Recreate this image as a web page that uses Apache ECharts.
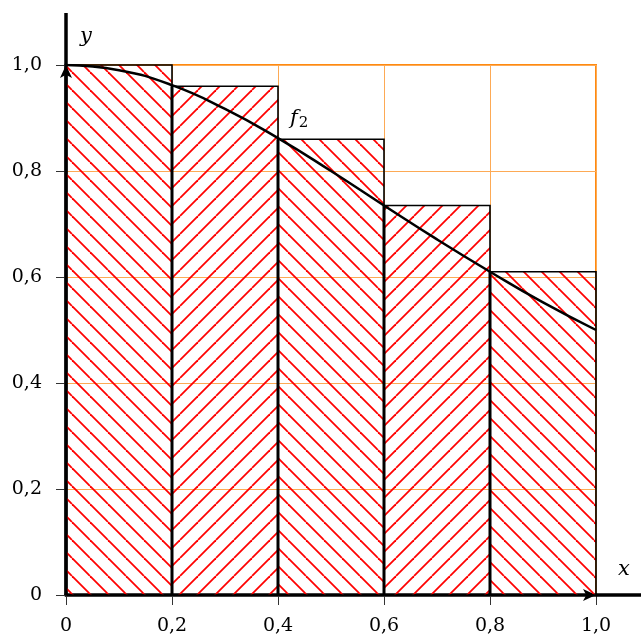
<!DOCTYPE html>
<html><head><meta charset="utf-8">
<script src="https://cdn.jsdelivr.net/npm/echarts@6/dist/echarts.min.js"></script>
<style>html,body{margin:0;padding:0;background:#fff}#c{width:641px;height:637px}</style>
</head><body><div id="c"></div>
<script>
const tickValues = [0, 0.2, 0.4, 0.6, 0.8, 1.0];
const xTickLabels = ['0', '0,2', '0,4', '0,6', '0,8', '1,0'];
const yTickLabels = ['0', '0,2', '0,4', '0,6', '0,8', '1,0'];
const barLeft = [0, 0.2, 0.4, 0.6, 0.8];
const barHeight = [1.0, 0.96, 0.86, 0.735, 0.61];
const barStep = 0.2;
const curveX = [0, 0.1, 0.2, 0.3, 0.4, 0.5, 0.6, 0.7, 0.8, 0.9, 1.0];
const curveY = [1.0, 0.99, 0.962, 0.917, 0.862, 0.8, 0.735, 0.671, 0.61, 0.552, 0.5];

function hatch(dir) {
  const s = 18;
  const c = document.createElement('canvas');
  c.width = s; c.height = s;
  const ctx = c.getContext('2d');
  ctx.strokeStyle = '#ff0000';
  ctx.lineWidth = 1.8;
  for (const o of [-s, 0, s]) {
    ctx.beginPath();
    if (dir === 0) { ctx.moveTo(o, 0); ctx.lineTo(o + s, s); }
    else { ctx.moveTo(o, s); ctx.lineTo(o + s, 0); }
    ctx.stroke();
  }
  return c;
}
const patterns = [hatch(0), hatch(1)];

function lab(arr) {
  return function (v) {
    const i = tickValues.findIndex(t => Math.abs(t - v) < 1e-9);
    return i >= 0 ? arr[i] : '';
  };
}

const chart = echarts.init(document.getElementById('c'), null, { renderer: 'canvas' });
const font = 'DejaVu Serif';
const gridColor = '#FDAA55';
const option = {
  animation: false,
  backgroundColor: '#fff',
  grid: { left: 66, top: 65, width: 530, height: 530, show: true, borderColor: '#FF8A10', borderWidth: 2, backgroundColor: 'transparent' },
  xAxis: {
    type: 'value', min: 0, max: 1, interval: 0.2,
    axisLine: { show: true, onZero: false, lineStyle: { color: '#000', width: 3.5 }, symbol: ['none', 'arrow'], symbolSize: [9, 13] },
    axisTick: { show: true, length: 10, lineStyle: { color: '#333', width: 1 } },
    axisLabel: { formatter: lab(xTickLabels), fontFamily: font, fontSize: 19, color: '#000', margin: 22, showMaxLabel: true, showMinLabel: true },
    splitLine: { show: true, lineStyle: { color: gridColor, width: 1 } }
  },
  yAxis: {
    type: 'value', min: 0, max: 1, interval: 0.2,
    axisLine: { show: true, onZero: false, lineStyle: { color: '#000', width: 3.5 }, symbol: ['none', 'arrow'], symbolSize: [9, 13] },
    axisTick: { show: true, length: 10, lineStyle: { color: '#333', width: 1 } },
    axisLabel: { formatter: lab(yTickLabels), fontFamily: font, fontSize: 19, color: '#000', margin: 24, showMaxLabel: true, showMinLabel: true },
    splitLine: { show: true, lineStyle: { color: gridColor, width: 1 } }
  },
  series: [
    {
      type: 'custom', z: 3,
      data: barLeft.map((x, i) => [x, barHeight[i]]),
      encode: { x: 0, y: 1 },
      renderItem: function (params, api) {
        const x0 = api.value(0), h = api.value(1), i = params.dataIndex;
        const p0 = api.coord([x0, 0]), p1 = api.coord([x0 + barStep, h]);
        return {
          type: 'group', children: [
            { type: 'rect', shape: { x: p0[0], y: p1[1], width: p1[0] - p0[0], height: p0[1] - p1[1] },
              style: { fill: { image: patterns[i % 2], repeat: 'repeat' }, stroke: '#000', lineWidth: 1.6 } },
            { type: 'line', shape: { x1: p0[0], y1: p0[1], x2: p0[0], y2: p1[1] }, style: { stroke: '#000', lineWidth: 3 } }
          ]
        };
      }
    },
    {
      type: 'line', z: 5, smooth: true, showSymbol: false,
      data: curveX.map((x, i) => [x, curveY[i]]),
      lineStyle: { color: '#000', width: 2.5 }
    }
  ]
};
chart.setOption(option);

const o = chart.convertToPixel({ gridIndex: 0 }, [0, 0]);
const e = chart.convertToPixel({ gridIndex: 0 }, [1, 1]);
const fp = chart.convertToPixel({ gridIndex: 0 }, [0.4, 0.862]);
chart.setOption({
  graphic: [
    { type: 'line', z: 10, shape: { x1: e[0], y1: o[1], x2: chart.getWidth(), y2: o[1] }, style: { stroke: '#000', lineWidth: 3.5 } },
    { type: 'line', z: 10, shape: { x1: o[0], y1: e[1], x2: o[0], y2: e[1] - 52 }, style: { stroke: '#000', lineWidth: 3.5 } },
    { type: 'text', z: 10, x: e[0] + 22, y: o[1] - 15, style: { text: 'x', font: 'italic 21px "DejaVu Serif"', fill: '#000', textAlign: 'left', textVerticalAlign: 'bottom' } },
    { type: 'text', z: 10, x: o[0] + 14, y: e[1] - 18, style: { text: 'y', font: 'italic 21px "DejaVu Serif"', fill: '#000', textAlign: 'left', textVerticalAlign: 'bottom' } },
    { type: 'text', z: 10, x: fp[0] + 12, y: fp[1] - 8, style: {
        text: '{f|f}{s|2}', textAlign: 'left', textVerticalAlign: 'bottom',
        rich: { f: { font: 'italic 21px "DejaVu Serif"', fill: '#000' }, s: { font: '15px "DejaVu Serif"', fill: '#000', padding: [8, 0, 0, 1] } } } }
  ]
});
</script></body></html>
